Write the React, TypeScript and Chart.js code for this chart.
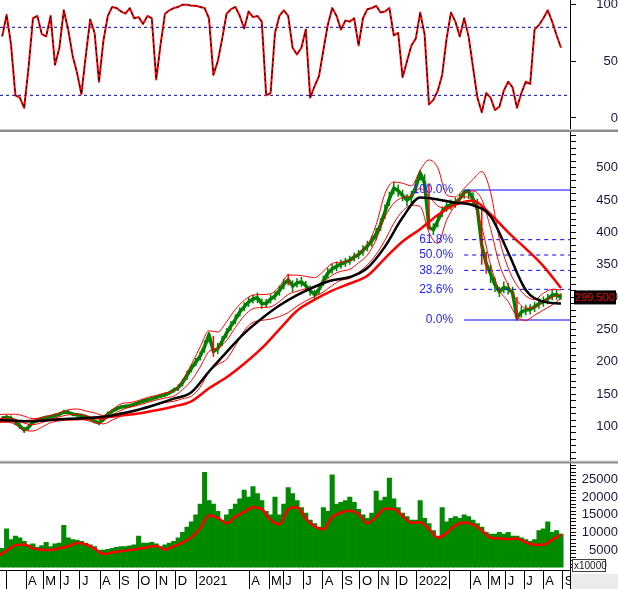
import React, { useEffect, useRef } from 'react';
import { Chart, registerables } from 'chart.js';

Chart.register(...registerables);

// ---------- data (weekly, Feb 2020 – Aug 2022) ----------
const priceHigh = [
  116, 118, 117, 112, 106, 99, 104, 110, 113, 115,
  117, 118, 120, 122, 126, 125, 122, 121, 120, 118,
  115, 111, 109, 115, 123, 127, 131, 133, 134, 135,
  137, 140, 142, 144, 146, 148, 150, 152, 155, 160,
  165, 174, 186, 196, 206, 216, 233, 246, 240, 229,
  240, 252, 263, 273, 284, 292, 300, 304, 307, 298,
  297, 304, 309, 318, 328, 336, 326, 329, 331, 325,
  318, 311, 320, 333, 345, 351, 355, 358, 361, 364,
  369, 373, 380, 387, 395, 407, 422, 443, 463, 478,
  474, 466, 459, 464, 480, 497, 490, 476, 414, 428,
  440, 448, 451, 454, 460, 466, 466, 462, 452, 436,
  370, 350, 330, 316, 324, 322, 316, 300, 286, 288,
  289, 293, 298, 301, 305, 311, 312, 306,
];
const priceLow = [
  110, 111, 108, 102, 96, 90, 94, 103, 106, 109,
  111, 112, 114, 116, 119, 119, 116, 115, 114, 112,
  109, 105, 102, 107, 115, 120, 124, 127, 128, 129,
  131, 134, 136, 138, 140, 142, 144, 146, 149, 152,
  155, 162, 172, 184, 193, 202, 214, 230, 208, 212,
  224, 237, 248, 258, 270, 278, 285, 290, 291, 282,
  283, 290, 295, 302, 312, 318, 308, 315, 316, 310,
  302, 297, 304, 317, 329, 336, 340, 344, 347, 350,
  355, 359, 364, 371, 378, 388, 402, 421, 441, 459,
  455, 448, 441, 446, 460, 480, 465, 404, 396, 408,
  424, 432, 435, 438, 444, 452, 452, 442, 430, 350,
  336, 322, 308, 300, 306, 304, 298, 264, 268, 272,
  273, 277, 282, 285, 289, 295, 296, 296,
];
const priceClose = [
  113, 114.5, 112.5, 107, 101, 94.5, 99, 106.5, 109.5, 112,
  114, 115, 117, 119, 122.5, 122, 119, 118, 117, 115,
  112, 108, 105.5, 111, 119, 123.5, 127.5, 130, 131, 132,
  134, 137, 139, 141, 143, 145, 147, 149, 152, 156,
  160, 168, 179, 190, 199.5, 209, 223.5, 242, 216, 220.5,
  232, 244.5, 255.5, 265.5, 277, 285, 292.5, 297, 299, 290,
  290, 297, 302, 310, 320, 327, 317, 322, 323.5, 317.5,
  310, 304, 312, 325, 337, 343.5, 347.5, 351, 354, 357,
  362, 366, 372, 379, 386.5, 397.5, 412, 432, 452, 468.5,
  464.5, 457, 450, 455, 470, 492, 476, 408, 404, 418,
  432, 440, 443, 446, 452, 462, 464, 452, 436, 380,
  352, 336, 319, 308, 315, 313, 307, 268, 277, 280,
  281, 285, 290, 293, 297, 303, 304, 299.5,
];
const downWeeks = [48, 65, 97, 109, 110, 117];
const volume = [
  5500, 11000, 8000, 9000, 8500, 7500, 6500, 6800, 5800, 6300,
  7200, 6000, 6800, 7000, 12000, 8500, 8000, 7800, 7500, 7000,
  6500, 6000, 5000, 5000, 5200, 5500, 5800, 6000, 6000, 6200,
  6500, 9000, 7000, 7000, 7200, 6800, 6000, 6500, 7000, 7500,
  8500, 10000, 11500, 13000, 15000, 18000, 27000, 19000, 18000, 16000,
  13500, 15000, 16500, 18000, 19500, 22000, 20000, 23000, 21000, 19000,
  16000, 15000, 20000, 15000, 18000, 22700, 21000, 19000, 17000, 15500,
  13500, 12500, 11500, 17000, 16000, 26300, 18000, 18500, 19000, 20000,
  18500, 16500, 15000, 14000, 15500, 21700, 19000, 20000, 25400, 19500,
  17000, 15500, 14500, 13500, 13500, 19000, 14000, 12500, 10500, 9000,
  17000, 13000, 14000, 14500, 14000, 15000, 14500, 13500, 12500, 11500,
  10000, 9500, 9500, 10000, 9500, 10000, 9000, 9000, 8500, 8000,
  7500, 8000, 10500, 11000, 13000, 10000, 10500, 9500,
];
const stochK = [
  72, 91, 65, 20, 18, 9, 45, 88, 90, 74,
  72, 90, 47, 62, 95, 78, 55, 40, 21, 55,
  87, 75, 32, 68, 90, 98, 97, 94, 92, 97,
  88, 89, 83, 90, 88, 34, 65, 92, 95, 97,
  98, 100, 100, 99, 99, 98, 97, 88, 38, 50,
  70, 92, 96, 98, 90, 79, 94, 89, 90, 85,
  20, 22, 75, 90, 95, 90, 62, 56, 62, 78,
  18, 28, 37, 60, 82, 97, 90, 78, 86, 85,
  88, 64, 88, 96, 97, 99, 93, 94, 97, 73,
  75, 36, 50, 64, 70, 93, 74, 12, 16, 24,
  38, 70, 93, 85, 72, 88, 72, 45, 18, 5,
  22, 18, 7, 10, 24, 32, 27, 9, 22, 32,
  30, 78, 82, 88, 95, 85, 73, 62,
];
// two-weekly samples
const volumeMA = [
  3300, 4800, 6400, 6600, 5500, 5100, 5000, 5500, 6100, 7000,
  6600, 5400, 3900, 4300, 4700, 5000, 5400, 5800, 6200, 5100,
  6100, 7100, 8600, 11200, 14800, 14100, 12600, 14400, 15800, 17100,
  16600, 13600, 12300, 16500, 17200, 13900, 11700, 10900, 14300, 15600,
  16100, 15200, 12600, 14400, 16700, 16600, 14700, 12700, 12900, 11000,
  8500, 9800, 12000, 12800, 12200, 10600, 8500, 8300, 8100, 8300,
  7200, 6500, 6500, 7900, 9400,
];
const bbUpper = [
  118, 119, 119, 116, 112, 114, 117, 121, 126, 127,
  124, 121, 117, 126, 135, 137, 140, 145, 148, 152,
  155, 172, 196, 223, 248, 246, 262, 281, 295, 303,
  304, 305, 316, 334, 334, 332, 330, 340, 352, 354,
  357, 368, 380, 412, 460, 478, 476, 472, 496, 512,
  500, 458, 455, 468, 482, 494, 462, 390, 345, 318,
  302, 296, 306, 312, 311,
];
const bbMiddle = [
  112, 113, 111, 105, 103, 106, 111, 115, 118, 119,
  117, 113, 110, 118, 125, 130, 133, 137, 141, 144,
  147, 157, 171, 192, 216, 221, 233, 253, 271, 282,
  284, 285, 293, 304, 309, 313, 315, 323, 334, 340,
  343, 353, 365, 389, 424, 445, 454, 457, 468, 456,
  441, 438, 447, 460, 464, 451, 406, 351, 319, 295,
  283, 284, 293, 300, 304,
];
const bbLower = [
  106, 107, 103, 94, 93, 99, 106, 109, 111, 111,
  110, 106, 104, 110, 116, 122, 126, 130, 134, 137,
  139, 143, 147, 161, 184, 196, 204, 225, 248, 261,
  264, 266, 270, 276, 286, 294, 301, 308, 318, 326,
  329, 338, 350, 366, 388, 414, 433, 442, 440, 400,
  383, 419, 442, 455, 447, 408, 350, 311, 293, 270,
  264, 272, 280, 288, 298,
];
// four-weekly samples
const maMedium = [
  110, 109, 108, 110, 112, 113, 115, 120, 126, 134,
  143, 153, 185, 215, 244, 267, 287, 303, 316, 326,
  331, 345, 378, 423, 454, 451, 446, 442, 425, 369,
  311, 293, 290,
];
const maLong = [
  108, 108, 109, 110, 111, 112, 114, 117, 120, 125,
  131, 139, 159, 176, 197, 221, 250, 279, 296, 310,
  321, 333, 360, 386, 405, 427, 443, 449, 428, 400,
  375, 348, 314,
];
// x axis: month boundaries (in weeks from chart start) and labels
const monthStartWeek = [
  1.52, 5.91, 9.84, 13.86, 18.18, 22.73, 27.05, 31.43, 35.61, 39.93,
  44.66, 56.66, 61.14, 64.39, 68.93, 73.34, 77.8, 81.82, 85.98, 90.16,
  94.7, 102.27, 106.98, 110.98, 114.93, 119.16, 123.48, 127.89,
];
const monthLabels = [
  '', 'A', 'M', 'J', 'J', 'A', 'S', 'O', 'N', 'D',
  '2021', 'A', 'M', 'J', 'J', 'A', 'S', 'O', 'N', 'D',
  '2022', '', 'A', 'M', 'J', 'J', 'A', 'S',
];
const stochLevels = [80, 20];
const fibHigh = 465.5;
const fibLow = 264.6;
const fibRatios = [1, 0.618, 0.5, 0.382, 0.236, 0];
const fibAnchorWeek = 105.5;
const volumeUnit = 'x10000';
const weeksShown = 129.55;

// ---------- helpers ----------
const FONT = '"Liberation Sans", Arial, sans-serif';
const AXIS_TEXT = '#16163a';

const range = (from: number, to: number, step: number) => {
  const out: number[] = [];
  for (let v = from; v <= to + 1e-9; v += step) out.push(v);
  return out;
};

function yAxis(stackWeight: number, min: number, max: number, tickValues: number[], label: (v: number) => string, padding: number) {
  return {
    type: 'linear',
    position: 'right',
    stack: 'panels',
    stackWeight,
    min,
    max,
    afterBuildTicks: (s: any) => {
      s.ticks = tickValues.map((v) => ({ value: v }));
    },
    afterFit: (s: any) => {
      s.width = 48;
      s.paddingTop = 0;
      s.paddingBottom = 0;
    },
    ticks: {
      autoSkip: false,
      crossAlign: 'far',
      padding,
      color: AXIS_TEXT,
      font: { family: FONT, size: 13 },
      callback: (v: number) => label(v),
    },
    grid: { drawOnChartArea: false, drawTicks: true, tickLength: 6, tickColor: '#000', tickWidth: 1 },
    border: { display: true, color: '#000', width: 1 },
  };
}

const overlayPlugin = {
  id: 'overlay',
  afterDatasetsDraw(chart: any) {
    const ctx = chart.ctx;
    const xs = chart.scales.x;
    const yP = chart.scales.yPrice;
    ctx.save();
    ctx.font = `12px ${FONT}`;
    ctx.fillStyle = '#2424ff';
    ctx.textAlign = 'right';
    ctx.textBaseline = 'middle';
    const ax = xs.getPixelForValue(fibAnchorWeek) - 11;
    fibRatios.forEach((r) => {
      const lvl = fibLow + r * (fibHigh - fibLow);
      ctx.fillText((r * 100).toFixed(1) + '%', ax, yP.getPixelForValue(lvl));
    });
    ctx.restore();
  },
  afterDraw(chart: any) {
    const ctx = chart.ctx;
    const { chartArea, width, height } = chart;
    const yO = chart.scales.yOsc;
    const yP = chart.scales.yPrice;
    const lastClose = priceClose[priceClose.length - 1];
    ctx.save();
    // panel separators
    [yO.bottom, yP.bottom].forEach((b: number) => {
      ctx.fillStyle = '#d0d0d0';
      ctx.fillRect(0, b - 1, width, 1);
      ctx.fillStyle = '#8c8c8c';
      ctx.fillRect(0, b, width, 2);
    });
    // last price tag
    const py = yP.getPixelForValue(lastClose);
    ctx.fillStyle = '#000';
    ctx.fillRect(chartArea.right + 4, py - 7, 42, 14);
    ctx.fillStyle = '#ff0000';
    ctx.font = `11px ${FONT}`;
    ctx.textAlign = 'center';
    ctx.textBaseline = 'middle';
    ctx.fillText(lastClose.toFixed(3), chartArea.right + 25, py + 0.5);
    // grey corner below the value axis
    ctx.fillStyle = '#ebebeb';
    ctx.fillRect(chartArea.right + 1, chartArea.bottom + 4, width - chartArea.right, height);
    ctx.fillStyle = '#000';
    ctx.fillRect(chartArea.right, chartArea.bottom, 1, height - chartArea.bottom);
    // volume unit box
    ctx.fillStyle = '#fff';
    ctx.fillRect(chartArea.right + 2.5, chartArea.bottom - 10.5, 33, 12);
    ctx.strokeStyle = '#404040';
    ctx.lineWidth = 1;
    ctx.strokeRect(chartArea.right + 2.5, chartArea.bottom - 10.5, 33, 12);
    ctx.fillStyle = '#202020';
    ctx.font = `10px ${FONT}`;
    ctx.textAlign = 'left';
    ctx.textBaseline = 'middle';
    ctx.fillText(volumeUnit, chartArea.right + 4, chartArea.bottom - 4.2);
    ctx.restore();
  },
};

export default function App() {
  const ref = useRef<HTMLCanvasElement | null>(null);

  useEffect(() => {
    if (!ref.current) return;
    const weekly = (arr: number[]) => arr.map((y, i) => ({ x: i + 0.5, y }));
    const twoWeekly = (arr: number[]) => arr.map((y, k) => ({ x: 2 * k - 0.5, y }));
    const fourWeekly = (arr: number[]) => arr.map((y, k) => ({ x: 4 * k - 0.5, y }));
    const hLine = (y: number, from: number) => [{ x: from, y }, { x: weeksShown, y }];

    const lineBase = { type: 'line', pointRadius: 0, fill: false, borderJoinStyle: 'round' };

    const datasets: any[] = [
      { ...lineBase, data: weekly(stochK), yAxisID: 'yOsc', borderColor: '#000', borderWidth: 1, borderDash: [3, 3], tension: 0 },
      { ...lineBase, data: weekly(stochK), yAxisID: 'yOsc', borderColor: '#ff0000', borderWidth: 2, tension: 0 },
      ...stochLevels.map((lv) => ({ ...lineBase, data: hLine(lv, 0), yAxisID: 'yOsc', borderColor: '#0000b0', borderWidth: 1, borderDash: [3, 3] })),
      { ...lineBase, data: fourWeekly(maMedium), yAxisID: 'yPrice', borderColor: '#000', borderWidth: 2.5, cubicInterpolationMode: 'monotone' },
      { ...lineBase, data: fourWeekly(maLong), yAxisID: 'yPrice', borderColor: '#ff0000', borderWidth: 2.5, cubicInterpolationMode: 'monotone' },
      { ...lineBase, data: twoWeekly(bbUpper), yAxisID: 'yPrice', borderColor: '#ff0000', borderWidth: 1, cubicInterpolationMode: 'monotone' },
      { ...lineBase, data: twoWeekly(bbMiddle), yAxisID: 'yPrice', borderColor: '#ff0000', borderWidth: 1, cubicInterpolationMode: 'monotone' },
      { ...lineBase, data: twoWeekly(bbLower), yAxisID: 'yPrice', borderColor: '#ff0000', borderWidth: 1, cubicInterpolationMode: 'monotone' },
      ...fibRatios.map((r) => ({
        ...lineBase,
        data: hLine(fibLow + r * (fibHigh - fibLow), fibAnchorWeek),
        yAxisID: 'yPrice',
        borderColor: '#0000ff',
        borderWidth: 1,
        borderDash: r === 1 || r === 0 ? [] : [4, 4],
      })),
      // weekly high-low strokes
      {
        type: 'bar',
        data: priceHigh.map((h, i) => ({ x: i + 0.5, y: [priceLow[i], h] })),
        yAxisID: 'yPrice',
        backgroundColor: (c: any) => (downWeeks.includes(c.dataIndex) ? '#ff0000' : '#008000'),
        borderWidth: 0,
        barPercentage: 0.34,
        categoryPercentage: 1,
        grouped: false,
      },
      // weekly closes
      { ...lineBase, data: weekly(priceClose), yAxisID: 'yPrice', borderColor: '#008000', borderWidth: 3.5, tension: 0 },
      { ...lineBase, data: twoWeekly(volumeMA), yAxisID: 'yVol', borderColor: '#ff0000', borderWidth: 2.5, cubicInterpolationMode: 'monotone' },
      {
        type: 'bar',
        data: weekly(volume),
        yAxisID: 'yVol',
        backgroundColor: '#008a00',
        borderWidth: 0,
        barPercentage: 1,
        categoryPercentage: 1,
        grouped: false,
      },
    ];

    const chart = new Chart(ref.current, {
      type: 'bar',
      data: { datasets },
      plugins: [overlayPlugin],
      options: {
        animation: false,
        responsive: true,
        maintainAspectRatio: false,
        events: [],
        layout: { padding: 0 },
        plugins: { legend: { display: false }, tooltip: { enabled: false } },
        scales: {
          x: {
            type: 'linear',
            position: 'bottom',
            min: 0,
            max: weeksShown,
            offset: false,
            afterBuildTicks: (s: any) => {
              s.ticks = monthStartWeek.map((v) => ({ value: v }));
            },
            afterFit: (s: any) => {
              s.height = 19;
              s.paddingLeft = 0;
              s.paddingRight = 0;
            },
            ticks: {
              autoSkip: false,
              maxRotation: 0,
              minRotation: 0,
              align: 'start',
              labelOffset: 2,
              padding: -15,
              color: '#000',
              font: { family: FONT, size: 13 },
              callback: (_v: number, i: number) => monthLabels[i] ?? '',
            },
            grid: { offset: false, drawOnChartArea: false, drawTicks: true, tickLength: 19, tickColor: '#000', tickWidth: 1 },
            border: { display: true, color: '#000', width: 1 },
          },
          yOsc: yAxis(130, -10.6, 104.1, [0, 50, 100], (v) => String(v), 19),
          yPrice: yAxis(331.5, 45.9, 558.3, range(50, 550, 10), (v) => (v % 50 === 0 && v >= 100 && v <= 500 ? String(v) : ''), 19),
          yVol: yAxis(108.5, -634, 30070, range(0, 29000, 1000), (v) => (v % 5000 === 0 && v >= 5000 ? String(v) : ''), 4.6),
        } as any,
      },
    } as any);

    return () => chart.destroy();
  }, []);

  return (
    <div style={{ position: 'absolute', left: 0, top: 0, width: 618, height: 589, background: '#fff' }}>
      <canvas ref={ref} />
    </div>
  );
}
